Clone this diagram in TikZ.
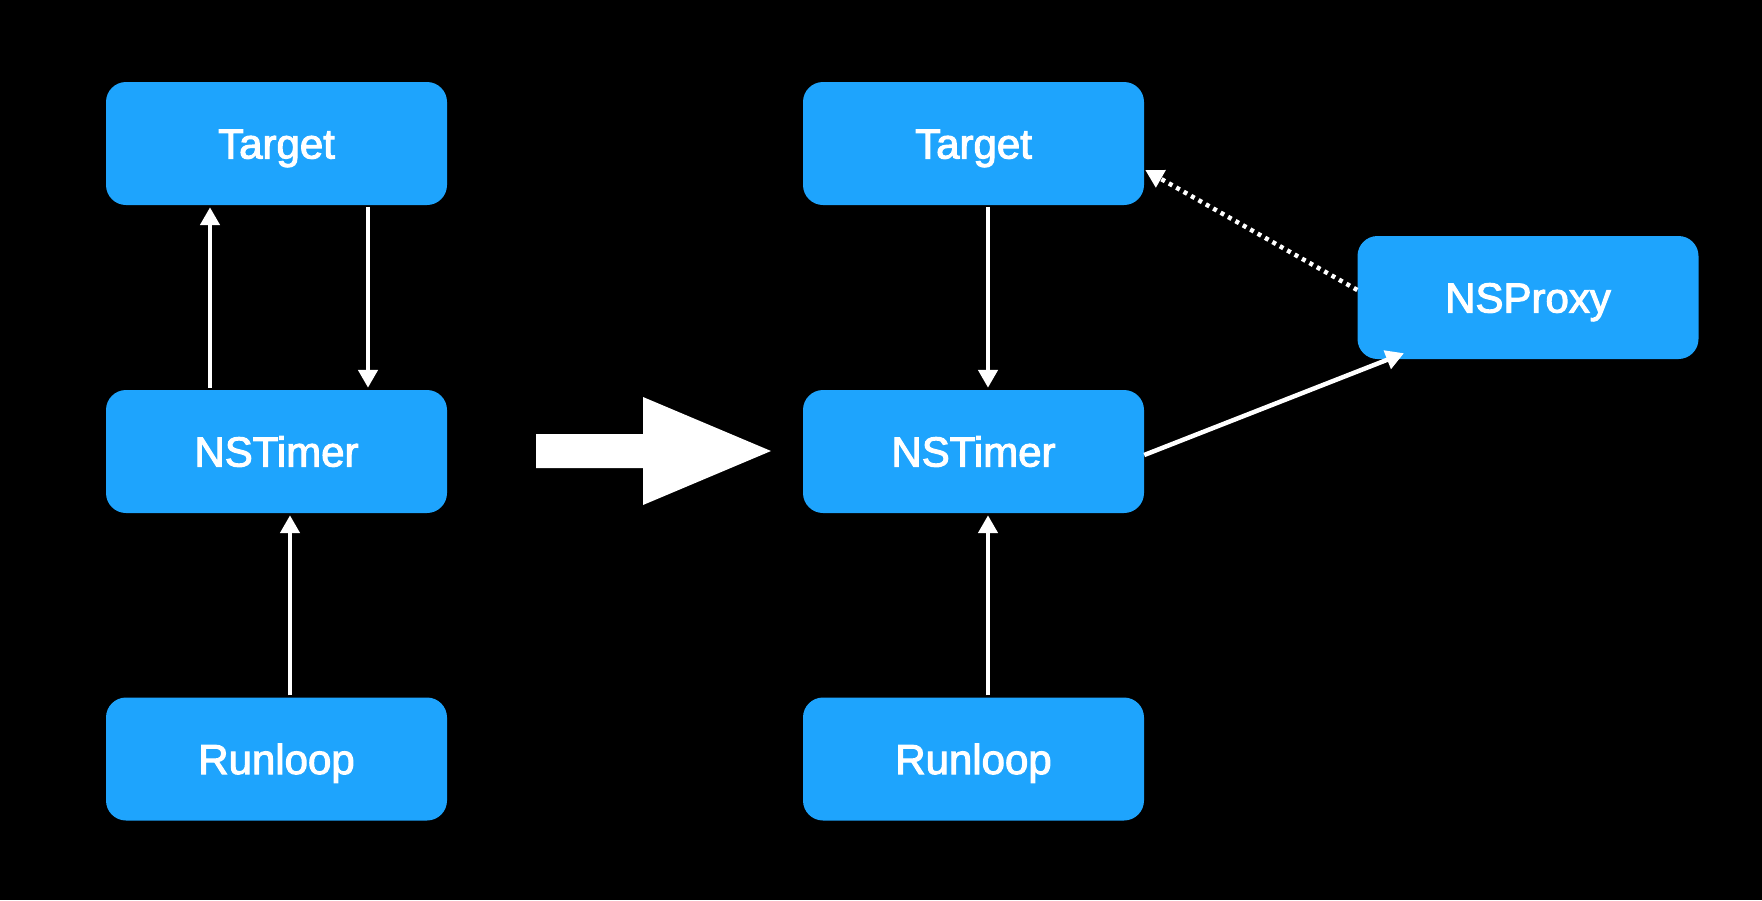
\documentclass[tikz,border=0pt]{standalone}
\usepackage{fontspec}
\setmainfont{Liberation Sans}
\newfontfamily\boxfont{Liberation Sans}[FakeBold=2.5]
\usetikzlibrary{arrows.meta}
\definecolor{boxblue}{HTML}{1EA4FD}
\tikzset{
  box/.style={fill=boxblue, rounded corners=20pt, minimum width=341pt, minimum height=123pt, inner sep=0pt, text height=30pt, text depth=0pt, text=white, font=\boxfont\fontsize{42}{48}\selectfont},
  arr/.style={draw=white, line width=4.5pt, -{Triangle[width=19pt,length=18pt]}, shorten >=2pt, shorten <=2pt},
  dotarr/.style={arr, dash pattern=on 4pt off 4.5pt}
}
\begin{document}
\begin{tikzpicture}[x=1pt,y=-1pt]
\fill[black] (0,0) rectangle (1762,900);
\useasboundingbox (0,0) rectangle (1762,900);
% left
\node[box] (lt) at (276.5,143.5) {Target};
\node[box] (ln) at (276.5,451.5) {NSTimer};
\node[box] (lr) at (276.5,759) {Runloop};
% right
\node[box] (rt) at (973.5,143.5) {Target};
\node[box] (rn) at (973.5,451.5) {NSTimer};
\node[box] (rr) at (973.5,759) {Runloop};
\node[box] (np) at (1528,297.5) {NSProxy};
% left arrows
\draw[arr] ([xshift=-66.5pt]ln.north) -- ([xshift=-66.5pt]lt.south);
\draw[arr] ([xshift=91.5pt]lt.south) -- ([xshift=91.5pt]ln.north);
\draw[arr] ([xshift=13.5pt]lr.north) -- ([xshift=13.5pt]ln.south);
% right arrows
\draw[arr] ([xshift=14.5pt]rt.south) -- ([xshift=14.5pt]rn.north);
\draw[arr] ([xshift=14.5pt]rr.north) -- ([xshift=14.5pt]rn.south);
\draw[arr, shorten <=0pt, shorten >=0pt] ([yshift=-3.5pt]rn.east) -- ([xshift=-124pt,yshift=6pt]np.south);
\draw[dotarr, shorten <=0pt, shorten >=0pt] ([yshift=7.5pt]np.west) -- ([xshift=1pt,yshift=-26.5pt]rt.east);
% big arrow
\fill[white] (536,434) -- (643,434) -- (643,397) -- (771,451) -- (643,505) -- (643,468) -- (536,468) -- cycle;
\end{tikzpicture}
\end{document}
